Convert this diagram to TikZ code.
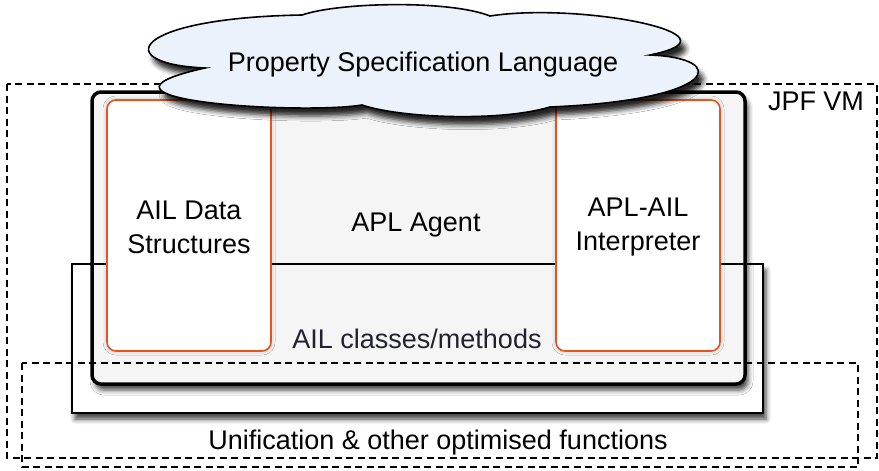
\documentclass[tikz,border=0pt]{standalone}
\usepackage{fontspec}
\setmainfont{Liberation Sans}
\usetikzlibrary{shadows.blur}
\definecolor{cloudblue}{HTML}{EBF2FB}
\definecolor{ailorange}{HTML}{E8531E}
\definecolor{agentgray}{HTML}{F5F5F5}
\definecolor{ailtext}{HTML}{22222E}

\begin{document}
\begin{tikzpicture}[x=1pt,y=-1pt,
        lbl/.style={inner sep=0pt, align=center, font=\fontsize{27}{34}\selectfont},
        dashbox/.style={dash pattern=on 7pt off 4.5pt, line width=1.3pt},
        softshadow/.style={blur shadow={shadow xshift=3pt, shadow yshift=-6pt,
            shadow blur radius=5pt, shadow opacity=75}},
        orangebox/.style={draw=ailorange, line width=1.6pt, fill=white, rounded corners=9pt,
            blur shadow={shadow xshift=0pt, shadow yshift=0pt, shadow blur radius=4pt, shadow opacity=25}}]
        \useasboundingbox (0,0) rectangle (879,471);
        % JPF VM
        \draw[dashbox] (7,84) rectangle (877,458);
        \node[lbl, anchor=base] (jpf) at (816,110) {JPF VM};
        % AIL classes and the agent on top
        \fill[white, softshadow] (72,264) rectangle (763,413);
        \fill[agentgray, softshadow, rounded corners=9pt] (92,92) rectangle (745,384);
        \draw[line width=2pt] (72,264) rectangle (763,413);
        \draw[line width=3.5pt, rounded corners=9pt] (92,92) rectangle (745,384);
        \draw[orangebox] (107,100) rectangle (271,351);
        \draw[orangebox] (556,100) rectangle (720,351);
        \node[lbl] (data) at (189,227) {AIL Data\\Structures};
        \node[lbl] (interp) at (638,227) {APL-AIL\\Interpreter};
        \node[lbl, anchor=base] (agent) at (416,231) {APL Agent};
        \node[lbl, anchor=base, text=ailtext] (classes) at (417,348) {AIL classes/methods};
        % optimised functions
        \draw[dashbox] (22,363) rectangle (858,467);
        \node[lbl, anchor=base] (unif) at (438,449) {Unification \& other optimised functions};
        % property language cloud
        \filldraw[fill=cloudblue, line width=1.6pt,
            blur shadow={shadow xshift=5pt, shadow yshift=-8pt, shadow blur radius=5pt, shadow opacity=85}]
            (205,68) .. controls (110,64) and (130,18) .. (302,15)
            .. controls (340,2) and (450,0) .. (490,16)
            .. controls (580,2) and (750,35) .. (650,55)
            .. controls (730,58) and (720,100) .. (550,107)
            .. controls (500,122) and (400,118) .. (362,105)
            .. controls (300,115) and (60,100) .. cycle;
        \node[lbl, anchor=base] (psl) at (423,71) {Property Specification Language};
    \end{tikzpicture}
\end{document}
